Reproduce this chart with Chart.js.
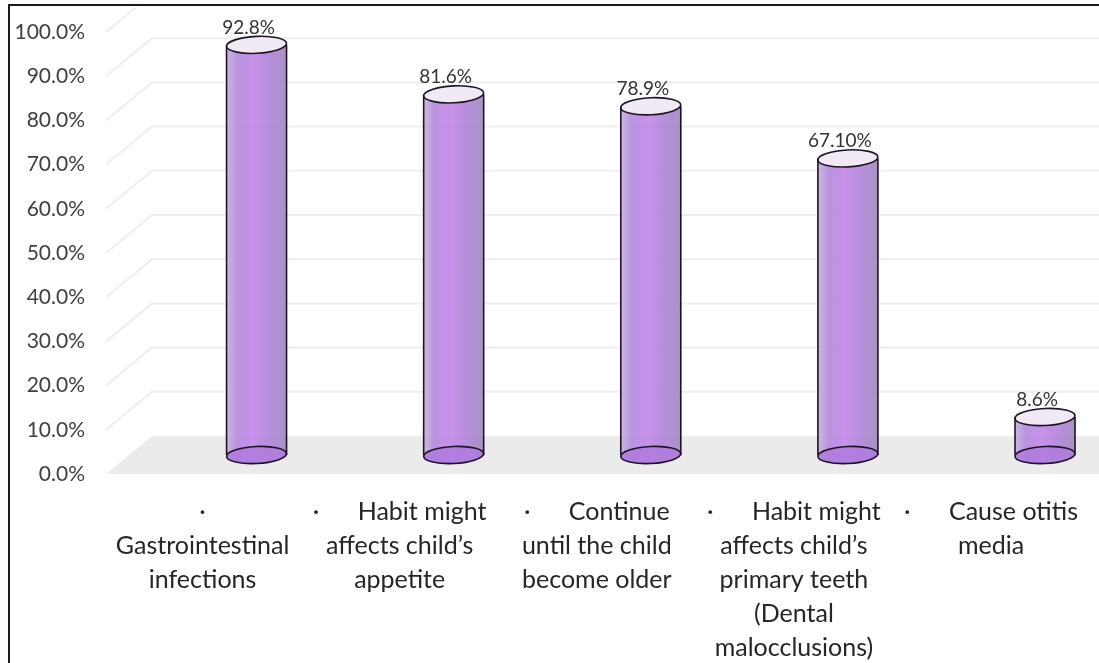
<!DOCTYPE html>
<html>
<head>
<meta charset="utf-8">
<script src="https://cdn.jsdelivr.net/npm/chart.js@4.4.1/dist/chart.umd.min.js"></script>
<style>
  html, body { margin: 0; padding: 0; background: #fff; overflow: hidden; }
  #wrap { position: relative; width: 1099px; height: 663px; }
</style>
</head>
<body>
<div id="wrap"><canvas id="habitChart"></canvas></div>
<script>
// Kategori, nilai dan label tick
const categories = [
    ['·', 'Gastrointestinal', 'infections'],
    ['·      Habit might', 'affects child’s', 'appetite'],
    ['·      Continue', 'until the child', 'become older'],
    ['·      Habit might', 'affects child’s', 'primary teeth', '(Dental', 'malocclusions)'],
    ['·      Cause otitis', 'media']
];
const percentValues = [92.8, 81.6, 78.9, 67.1, 8.6];
const labelDecimals = [1, 1, 1, 2, 1];
const yTicks = [0, 10, 20, 30, 40, 50, 60, 70, 80, 90, 100];

// Geometri "3D": kedalaman lantai dan dinding belakang
const DEPTH_X = 48;
const DEPTH_Y = 38;
const CYL_SHIFT_X = 54;
const CYL_R = 30;
const CYL_RY = 8.5;

const wallPlugin = {
    id: 'wall3d',
    beforeDatasetsDraw(chart) {
        const { ctx, chartArea, scales: { y } } = chart;
        const left = chartArea.left;
        const right = chart.width;
        const y0 = y.getPixelForValue(0);
        ctx.save();
        ctx.beginPath();
        ctx.rect(10, 7, chart.width, chart.height);
        ctx.clip();

        // lantai abu-abu
        ctx.fillStyle = '#ebebeb';
        ctx.beginPath();
        ctx.moveTo(left + 2, y0);
        ctx.lineTo(left + DEPTH_X, y0 - DEPTH_Y);
        ctx.lineTo(right, y0 - DEPTH_Y);
        ctx.lineTo(right, y0);
        ctx.closePath();
        ctx.fill();

        // garis grid dinding samping dan belakang
        ctx.strokeStyle = '#eeeeee';
        ctx.lineWidth = 2;
        yTicks.forEach(t => {
            if (t === 0) return;
            const py = y.getPixelForValue(t);
            ctx.beginPath();
            ctx.moveTo(left + 2, py);
            ctx.lineTo(left + DEPTH_X, py - DEPTH_Y);
            ctx.lineTo(right, py - DEPTH_Y);
            ctx.stroke();
        });
        ctx.restore();
    }
};

const cylinderPlugin = {
    id: 'cylinders',
    afterDatasetsDraw(chart) {
        const { ctx } = chart;
        const meta = chart.getDatasetMeta(0);
        const dy = DEPTH_Y / 2;
        ctx.save();
        meta.data.forEach((bar, i) => {
            const cx = bar.x + CYL_SHIFT_X;
            const top = bar.y - dy;
            const base = bar.base - dy;
            const rot = -0.05;

            // badan silinder
            const g = ctx.createLinearGradient(cx - CYL_R, 0, cx + CYL_R, 0);
            g.addColorStop(0, 'rgba(200, 182, 222, 0.95)');
            g.addColorStop(0.18, 'rgba(182, 142, 222, 0.95)');
            g.addColorStop(0.45, 'rgba(196, 140, 234, 0.95)');
            g.addColorStop(0.75, 'rgba(178, 136, 216, 0.95)');
            g.addColorStop(1, 'rgba(164, 142, 190, 0.95)');
            ctx.fillStyle = g;
            ctx.beginPath();
            ctx.moveTo(cx - CYL_R, top);
            ctx.lineTo(cx - CYL_R, base);
            ctx.ellipse(cx, base, CYL_R, CYL_RY, rot, Math.PI, 0, true);
            ctx.lineTo(cx + CYL_R, top);
            ctx.closePath();
            ctx.fill();

            // alas
            ctx.fillStyle = 'rgba(176, 124, 222, 0.9)';
            ctx.strokeStyle = '#1e1426';
            ctx.lineWidth = 1.6;
            ctx.beginPath();
            ctx.ellipse(cx, base, CYL_R, CYL_RY, rot, 0, Math.PI * 2);
            ctx.fill();
            ctx.stroke();

            // sisi
            ctx.beginPath();
            ctx.moveTo(cx - CYL_R, top);
            ctx.lineTo(cx - CYL_R, base);
            ctx.moveTo(cx + CYL_R, top);
            ctx.lineTo(cx + CYL_R, base);
            ctx.stroke();

            // tutup atas
            ctx.fillStyle = '#f1eaf5';
            ctx.beginPath();
            ctx.ellipse(cx, top, CYL_R, CYL_RY, rot, 0, Math.PI * 2);
            ctx.fill();
            ctx.stroke();

            // label nilai
            ctx.fillStyle = '#333';
            ctx.font = '19px Lato';
            ctx.textAlign = 'center';
            ctx.textBaseline = 'alphabetic';
            const v = percentValues[i];
            ctx.fillText(v.toFixed(labelDecimals[i]) + '%', cx - 8, top - 11);
        });
        ctx.restore();
    }
};

const framePlugin = {
    id: 'frame',
    afterDraw(chart) {
        const { ctx } = chart;
        ctx.save();
        ctx.strokeStyle = '#1a1a1a';
        ctx.lineWidth = 2;
        ctx.beginPath();
        ctx.moveTo(9, chart.height);
        ctx.lineTo(9, 5);
        ctx.lineTo(chart.width, 5);
        ctx.stroke();
        ctx.restore();
    }
};

const ctx = document.getElementById('habitChart');
new Chart(ctx, {
    type: 'bar',
    data: {
        labels: categories,
        datasets: [{
            data: percentValues,
            backgroundColor: 'rgba(0,0,0,0)',
            borderWidth: 0
        }]
    },
    options: {
        responsive: true,
        maintainAspectRatio: false,
        animation: false,
        events: [],
        layout: { padding: { top: 32, left: 0, right: 0, bottom: 0 } },
        scales: {
            x: {
                grid: { display: false, drawTicks: false },
                border: { display: false },
                ticks: {
                    color: '#262626',
                    font: { family: 'Lato', size: 25, lineHeight: 1.36 },
                    padding: 21,
                    maxRotation: 0,
                    autoSkip: false
                },
                afterFit(scale) { scale.height = 189; }
            },
            y: {
                min: 0,
                max: 100,
                afterBuildTicks(scale) { scale.ticks = yTicks.map(v => ({ value: v })); },
                grid: { display: false, drawTicks: false },
                border: { display: false },
                ticks: {
                    color: '#404040',
                    font: { family: 'Lato', size: 21 },
                    padding: 19,
                    callback: v => v.toFixed(1) + '%'
                },
                afterFit(scale) { scale.width = 104; }
            }
        },
        plugins: {
            legend: { display: false },
            tooltip: { enabled: false }
        }
    },
    plugins: [wallPlugin, cylinderPlugin, framePlugin]
});
</script>
</body>
</html>
